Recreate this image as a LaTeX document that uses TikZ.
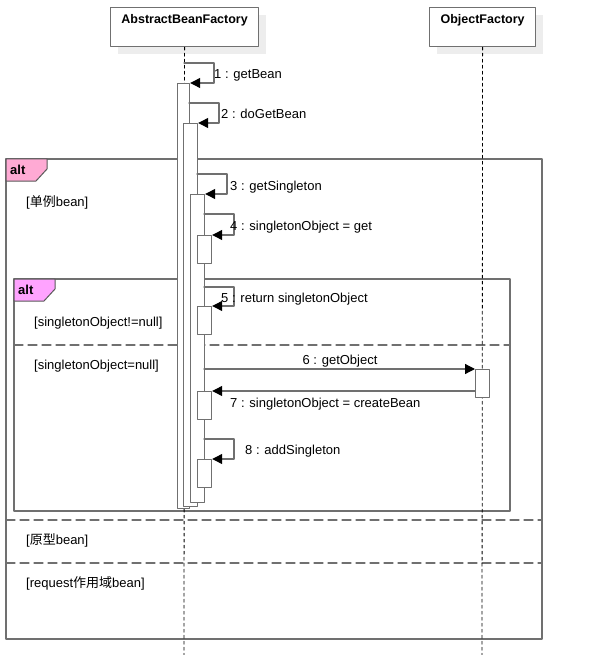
\documentclass[tikz,border=0pt]{standalone}
\usepackage{fontspec}
\setmainfont{Liberation Sans}
\newfontfamily\cjk{Noto Sans CJK SC}
\usetikzlibrary{arrows.meta,shadows}

\definecolor{altpink}{HTML}{FFAAD4}
\definecolor{altviolet}{HTML}{FFA3FF}
\definecolor{linegray}{HTML}{707070}

\tikzset{
  txt/.style={inner sep=0pt, anchor=base west, font=\fontsize{13}{15}\selectfont},
  head/.style={draw=linegray, line width=1.2pt, fill=white, anchor=north west, inner xsep=0pt, inner ysep=3pt,
    text height=13pt, text depth=20pt, font=\fontsize{12.5}{15}\selectfont\bfseries,
    drop shadow={shadow xshift=7pt, shadow yshift=-7pt, fill=black!7, opacity=1}},
  life/.style={black, line width=0.8pt, dash pattern=on 3pt off 3pt},
  act/.style={draw=linegray, line width=1.2pt, fill=white, anchor=north west, inner sep=0pt},
  frame/.style={draw=linegray, line width=1.3pt},
  divider/.style={linegray, line width=1.3pt, dash pattern=on 9pt off 5pt},
  tag/.style={draw=black!65, line width=1pt},
  msg/.style={draw=linegray, line width=1.2pt, -{Triangle[length=10pt, width=10pt, color=black]}}
}

\begin{document}
\begin{tikzpicture}[x=1pt, y=-1pt, line cap=round, line join=round]

\useasboundingbox (0,0) rectangle (591,655);

% Outer alt frame
\draw[frame] (6,159) rectangle (542,639);
\filldraw[tag, fill=altpink] (6,159) -- (47,159) -- (47,169) -- (36,181) -- (6,181) -- cycle;
\node[txt, font=\fontsize{13}{15}\selectfont\bfseries] (alt1) at (10,174.5) {alt};
\draw[divider] (6,520) -- (542,520);
\draw[divider] (6,563) -- (542,563);
\node[txt] (g1) at (26,206.5) {[{\cjk 单例}bean]};
\node[txt] (g2) at (26,544.5) {[{\cjk 原型}bean]};
\node[txt] (g3) at (26,587.5) {[request{\cjk 作用域}bean]};

% Inner alt frame
\draw[frame] (14,279) rectangle (510,511);
\filldraw[tag, fill=altviolet] (14,279) -- (55,279) -- (55,289) -- (44,301) -- (14,301) -- cycle;
\node[txt, font=\fontsize{13}{15}\selectfont\bfseries] (alt2) at (18,294.5) {alt};
\draw[divider] (14,345) -- (510,345);
\node[txt] (g4) at (34,326.5) {[singletonObject!=null]};
\node[txt] (g5) at (34,369.5) {[singletonObject=null]};

% Lifeline heads
\node[head, minimum width=148pt] (abf) at (110,7) {AbstractBeanFactory};
\node[head, minimum width=106pt] (obf) at (429,7) {ObjectFactory};

% Lifelines
\coordinate (abfend) at (184,655);
\coordinate (obfend) at (482,655);
\draw[life] (abf.south) -- (abfend);
\draw[life] (obf.south) -- (obfend);

% Activations
\node[act, minimum width=12pt, minimum height=425pt] (a1) at (177,83) {};
\node[act, minimum width=14pt, minimum height=383pt] (a2) at (183,123) {};
\node[act, minimum width=14pt, minimum height=308pt] (a3) at (190,194) {};
\node[act, minimum width=14pt, minimum height=28pt] (a4) at (197,235) {};
\node[act, minimum width=14pt, minimum height=28pt] (a5) at (197,306) {};
\node[act, minimum width=14pt, minimum height=28pt] (a7) at (197,391) {};
\node[act, minimum width=14pt, minimum height=28pt] (a8) at (197,459) {};
\node[act, minimum width=14pt, minimum height=28pt] (o1) at (475,369) {};

% Message start points
\coordinate (s1) at (184,63);
\coordinate (s2) at (189,103);
\coordinate (s3) at (197,174);
\coordinate (s4) at (204,214);
\coordinate (s5) at (204,287);
\coordinate (s6) at (204,369);
\coordinate (s8) at (204,439);

% Messages
\draw[msg] (s1) -- ++(30,0) |- (a1.north east);
\draw[msg] (s2) -- ++(30,0) |- (a2.north east);
\draw[msg] (s3) -- ++(30,0) |- (a3.north east);
\draw[msg] (s4) -- ++(30,0) |- (a4.north east);
\draw[msg] (s5) -- ++(30,0) |- (a5.north east);
\draw[msg] (s6) -- (o1.north west);
\draw[msg] (o1.west |- a7.north) -- (a7.north east);
\draw[msg] (s8) -- ++(30,0) |- (a8.north east);

% Message labels
\node[txt] (m1) at (214,78.5) {1 : getBean};
\node[txt] (m2) at (221,118.5) {2 : doGetBean};
\node[txt] (m3) at (230,190.5) {3 : getSingleton};
\node[txt] (m4) at (230,230.5) {4 : singletonObject = get};
\node[txt] (m5) at (221,302.5) {5 : return singletonObject};
\node[txt, anchor=base] (m6) at (340,364.5) {6 : getObject};
\node[txt] (m7) at (230,407.5) {7 : singletonObject = createBean};
\node[txt] (m8) at (245,454.5) {8 : addSingleton};

\end{tikzpicture}
\end{document}
